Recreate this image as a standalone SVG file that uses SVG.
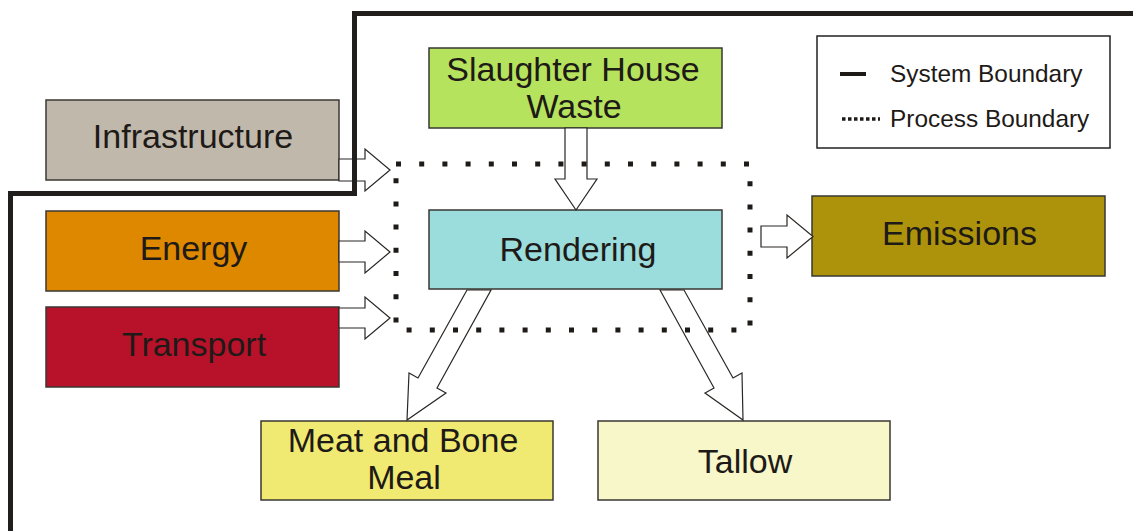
<svg xmlns="http://www.w3.org/2000/svg" width="1133" height="531" viewBox="0 0 1133 531">
  <style>
    .box { stroke: #3a3733; stroke-width: 1.5; }
    .lbl { font-family: "Liberation Sans", Arial, sans-serif; font-size: 34px; fill: #1e1a17; text-anchor: middle; }
    .leg { font-family: "Liberation Sans", Arial, sans-serif; font-size: 24.4px; fill: #1e1a17; }
    .flow { fill: #ffffff; stroke: #2a2724; stroke-width: 1.2; stroke-linejoin: miter; }
    .sysb { fill: none; stroke: #221e1c; stroke-width: 5; }
    .procb { fill: none; stroke: #1e1a17; stroke-width: 5; stroke-dasharray: 5 18.2; }
  </style>
  <rect width="1133" height="531" fill="#ffffff"/>

  <!-- input nodes -->
  <g id="infrastructure">
    <rect class="box" x="46" y="100" width="293" height="80" fill="#c1b8ac"/>
    <text class="lbl" x="193" y="148">Infrastructure</text>
  </g>
  <g id="energy">
    <rect class="box" x="46" y="211" width="293" height="80" fill="#de8800"/>
    <text class="lbl" x="193.5" y="260">Energy</text>
  </g>
  <g id="transport">
    <rect class="box" x="46" y="307" width="293" height="80" fill="#b8122a"/>
    <text class="lbl" x="194" y="356">Transport</text>
  </g>
  <g id="slaughter-house-waste">
    <rect class="box" x="429" y="48" width="293" height="80" fill="#b6e35e"/>
    <text class="lbl" x="573" y="81">Slaughter House</text>
    <text class="lbl" x="574" y="117.5">Waste</text>
  </g>

  <!-- process -->
  <g id="rendering">
    <rect class="box" x="429" y="210" width="293" height="79" fill="#9bdcdd"/>
    <text class="lbl" x="578" y="261">Rendering</text>
  </g>

  <!-- outputs -->
  <g id="emissions">
    <rect class="box" x="812" y="196" width="293" height="80" fill="#ad930c"/>
    <text class="lbl" x="959.5" y="245">Emissions</text>
  </g>
  <g id="meat-and-bone-meal">
    <rect class="box" x="261" y="421" width="292" height="79" fill="#f0ea72"/>
    <text class="lbl" x="403" y="452">Meat and Bone</text>
    <text class="lbl" x="404" y="489">Meal</text>
  </g>
  <g id="tallow">
    <rect class="box" x="598" y="421" width="292" height="79" fill="#f8f7c9"/>
    <text class="lbl" x="745" y="473">Tallow</text>
  </g>

  <!-- block arrows between nodes -->
  <g id="connectors">
    <polygon class="flow" points="339,159 365,159 365,149 390,170 365,191 365,181 339,181"/>
    <polygon class="flow" points="339,241 365,241 365,231 390,252 365,273 365,262 339,262"/>
    <polygon class="flow" points="339,308 365,308 365,297 390,318 365,339 365,328 339,328"/>
    <polygon class="flow" points="565,128 565,179 555,179 576,210 597,179 587,179 587,128"/>
    <polygon class="flow" points="761,226 787,226 787,215 813,236.5 787,258 787,247 761,247"/>
    <polygon class="flow" points="467,290 418,378 409,373 407,420 446,393 437,388 491,290"/>
    <polygon class="flow" points="660,290 714,388 705,393 743,420 742,373 733,378 684,290"/>
  </g>

  <!-- process boundary -->
  <rect id="process-boundary" class="procb" x="396" y="164" width="354" height="166"/>

  <!-- system boundary -->
  <path id="system-boundary" class="sysb" d="M1133,13.5 H354.5 V193.5 H10.5 V531"/>

  <!-- legend -->
  <g id="legend">
    <rect x="817" y="36" width="293" height="112" fill="#ffffff" stroke="#222" stroke-width="1.5"/>
    <line x1="840" y1="74" x2="866" y2="74" stroke="#1e1a17" stroke-width="4"/>
    <text class="leg" x="890" y="82">System Boundary</text>
    <line x1="842" y1="119" x2="880" y2="119" stroke="#1e1a17" stroke-width="3.5" stroke-dasharray="3.5 2.5"/>
    <text class="leg" x="890" y="127">Process Boundary</text>
  </g>
</svg>
